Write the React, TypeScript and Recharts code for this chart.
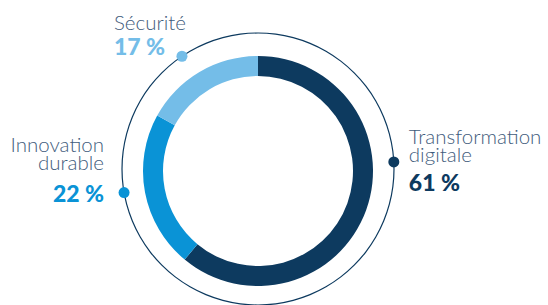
import { PieChart, Pie, Cell } from 'recharts';

const categories = ['Transformation digitale', 'Innovation durable', 'Sécurité'];
const shares = [61, 22, 17];
const colors = ['#0d3a5f', '#0a93d6', '#74bde8'];

const data = categories.map((name, i) => ({ name, value: shares[i] }));

const NAVY = '#0d3a5f';
const LABEL = '#3f5c7c';
const CX = 258;
const CY = 169;
const RING = 136;

// where each label's dot sits on the outer ring (degrees, counter-clockwise from 3 o'clock)
const dotAngles = [3, 190, 124];

const layouts = [
  { anchor: 'start', dx: 15, lines: [-18, 0], pct: 29 },
  { anchor: 'end', dx: -20, lines: [-41, -23], pct: 9 },
  { anchor: 'start', dx: -68, lines: [-26], pct: -1 },
];

const splitName = (name: string) => (name === 'Sécurité' ? [name] : name.split(' '));

const renderLabel = (props: any) => {
  const { cx, cy, index } = props;
  const a = (dotAngles[index] * Math.PI) / 180;
  const x = cx + RING * Math.cos(a);
  const y = cy - RING * Math.sin(a);
  const l = layouts[index];
  const words = splitName(categories[index]);
  return (
    <g key={`lbl-${index}`}>
      <circle cx={x} cy={y} r={5.5} fill={colors[index]} />
      <text
        textAnchor={l.anchor as any}
        fontFamily="Lato, sans-serif"
        fontWeight={300}
        fontSize={20.5}
        fill={LABEL}
      >
        {words.map((w, j) => (
          <tspan key={j} x={x + l.dx} y={y + l.lines[j]}>
            {w}
          </tspan>
        ))}
      </text>
      <text
        x={x + l.dx}
        y={y + l.pct}
        textAnchor={l.anchor as any}
        fontFamily="Lato, sans-serif"
        fontWeight={900}
        fontSize={23}
        fill={colors[index]}
      >
        {`${shares[index]} %`}
      </text>
    </g>
  );
};

export default function App() {
  return (
    <div style={{ position: 'absolute', left: 0, top: 0, width: 548, height: 305, background: '#fff' }}>
      <PieChart width={548} height={305} margin={{ top: 0, right: 0, bottom: 0, left: 0 }}>
        <Pie
          data={[{ name: 'ring', value: 1 }]}
          dataKey="value"
          cx={CX}
          cy={CY}
          innerRadius={RING - 0.6}
          outerRadius={RING + 0.6}
          fill={NAVY}
          stroke="none"
          isAnimationActive={false}
        />
        <Pie
          data={data}
          dataKey="value"
          cx={CX}
          cy={CY + 2}
          innerRadius={95}
          outerRadius={115}
          startAngle={90}
          endAngle={-270}
          stroke="none"
          label={false}
          isAnimationActive={false}
        >
          {data.map((d, i) => (
            <Cell key={d.name} fill={colors[i]} />
          ))}
        </Pie>
        <Pie
          data={data}
          dataKey="value"
          cx={CX}
          cy={CY}
          innerRadius={0}
          outerRadius={0}
          startAngle={90}
          endAngle={-270}
          fill="none"
          stroke="none"
          label={renderLabel}
          labelLine={false}
          isAnimationActive={false}
        />
      </PieChart>
    </div>
  );
}
